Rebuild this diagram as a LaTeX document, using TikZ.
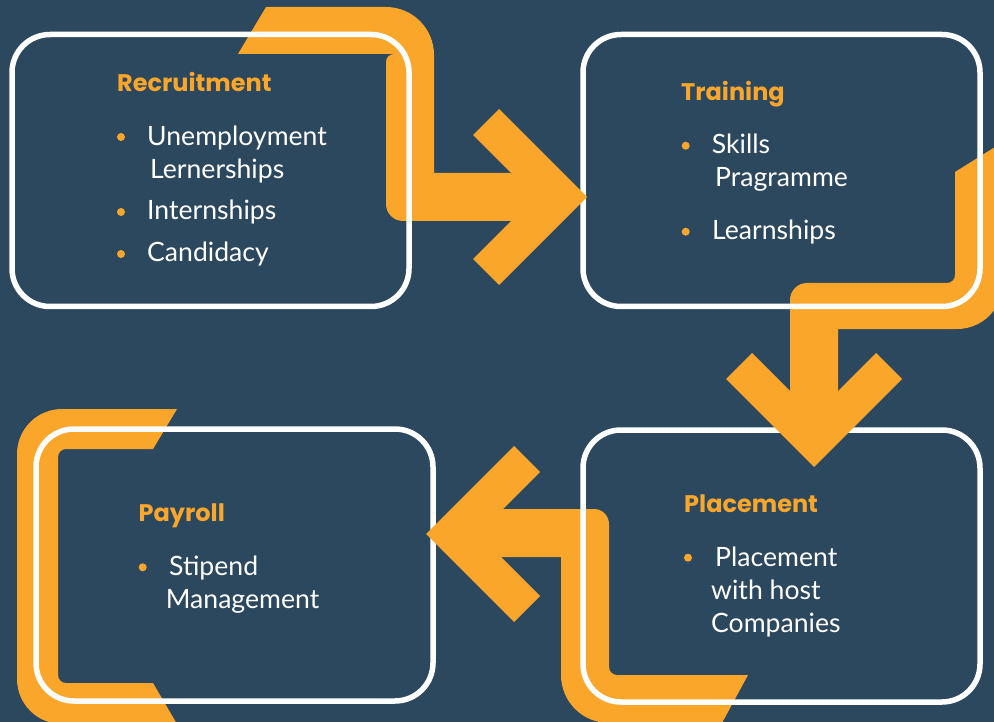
\documentclass[tikz,border=0pt]{standalone}
\usepackage{fontspec}
\setmainfont{Lato}
\newfontfamily\headfont{Poppins}
\definecolor{bg}{RGB}{44,72,94}
\definecolor{orng}{RGB}{249,166,43}
\begin{document}
\begin{tikzpicture}[x=1pt,y=-1pt,
	stagebox/.style={draw=white,line width=5.5pt,rounded corners=38pt,
	minimum width=397pt,minimum height=272pt},
	stagetitle/.style={anchor=base west,inner sep=0,text=orng,
	font=\headfont\fontsize{24}{24}\selectfont\bfseries},
	stageitem/.style={anchor=base west,inner sep=0,text=white,
	font=\fontsize{26.6}{26.6}\selectfont},
	bullet/.style={circle,fill=orng,inner sep=0,minimum size=8pt},
	arrowhd/.pic={\fill[orng] (0,0) -- (-88,-88) -- (-114,-62) -- (-52,0)
	-- (-114,62) -- (-88,88) -- cycle;}]
\useasboundingbox (0,0) rectangle (994,722);
\clip (0,0) rectangle (994,722);
\fill[bg] (0,0) rectangle (994,722);
\fill[orng] (238,54) -- (266,7) -- (386,7) arc[start angle=90,end angle=0,radius=48pt]
	-- (434,173) -- (545,173) -- (545,221) -- (403,221)
	arc[start angle=270,end angle=180,radius=17pt]
	-- (386,62) arc[start angle=180,end angle=90,radius=8pt] -- cycle;
\fill[orng] (955,172) -- (1003,142) -- (1003,283) arc[start angle=0,end angle=-90,radius=46pt]
	-- (838,329) -- (838,420) -- (790,420) -- (790,300)
	arc[start angle=180,end angle=90,radius=17pt]
	-- (947,283) arc[start angle=270,end angle=360,radius=8pt] -- cycle;
\fill[orng] (470,509) -- (594,509) arc[start angle=90,end angle=0,radius=15pt]
	-- (609,667) arc[start angle=180,end angle=270,radius=8pt]
	-- (748,675) -- (722,723) -- (609,723) arc[start angle=270,end angle=180,radius=48pt]
	-- (561,557) -- (470,557) -- cycle;
\fill[orng] (177,409) -- (62,409) arc[start angle=90,end angle=180,radius=45pt]
	-- (17,679) arc[start angle=180,end angle=270,radius=45pt]
	-- (177,724) -- (153,683) -- (66,683) arc[start angle=270,end angle=180,radius=8pt]
	-- (58,457) arc[start angle=180,end angle=90,radius=8pt] -- (153,449) -- cycle;
\node[stagebox] (recruit) at (210.5,170.5) {};
\node[stagebox] (training) at (781.5,170.5) {};
\node[stagebox] (payroll) at (234.5,565) {};
\node[stagebox] (placement) at (781.5,566) {};
\pic at (587,197) {arrowhd};
\pic[rotate=-90] at (814,467) {arrowhd};
\pic[rotate=180] at (426,534) {arrowhd};
\node[stagetitle] (rtitle) at (117,91.7) {Recruitment};
\node[stageitem] (ritem1) at (147,145.7) {Unemployment};
\node[stageitem] (ritem2) at (150,178.3) {Lernerships};
\node[stageitem] (ritem3) at (147,220) {Internships};
\node[stageitem] (ritem4) at (147,261.7) {Candidacy};
\node[stagetitle] (ttitle) at (681,101) {Training};
\node[stageitem] (titem1) at (711.7,153.3) {Skills};
\node[stageitem] (titem2) at (715,186.7) {Pragramme};
\node[stageitem] (titem3) at (712,239.3) {Learnships};
\node[stagetitle] (pltitle) at (684,512.7) {Placement};
\node[stageitem] (plitem1) at (715,566) {Placement};
\node[stageitem] (plitem2) at (711,599) {with host};
\node[stageitem] (plitem3) at (711,632.3) {Companies};
\node[stagetitle] (ptitle) at (138.5,521.7) {Payroll};
\node[stageitem] (pitem1) at (169,575) {Stipend};
\node[stageitem] (pitem2) at (165.7,608.3) {Management};
\foreach \p [count=\i] in {(121,137),(121,212),(121,254),(685.7,145.7),(685.7,231.7),
	(688,557.7),(142.7,567.3)}
	\node[bullet] (dot\i) at \p {};
\end{tikzpicture}
\end{document}
